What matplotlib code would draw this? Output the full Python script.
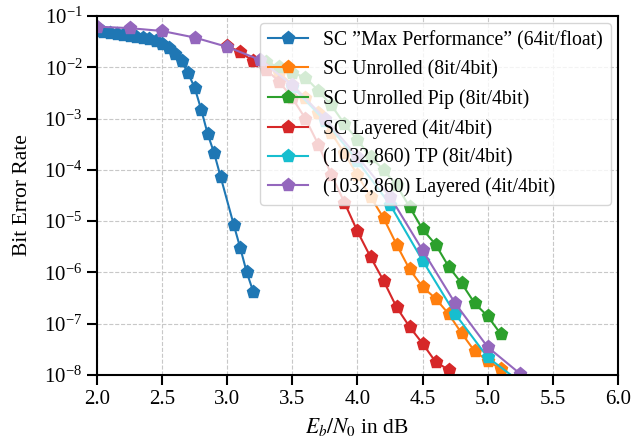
import numpy as np
import matplotlib
matplotlib.use("Agg")
import matplotlib.pyplot as plt
from matplotlib.ticker import LogLocator, NullLocator

plt.rcParams["font.family"] = ["Liberation Serif", "DejaVu Serif"]
plt.rcParams["mathtext.fontset"] = "stix"
plt.rcParams["font.size"] = 15

# BER curves: Eb/N0 in dB and bit error rate
sc_max_x = [2.0, 2.05, 2.1, 2.15, 2.2, 2.25, 2.3, 2.35, 2.4, 2.45, 2.5, 2.55,
            2.6, 2.65, 2.7, 2.75, 2.8, 2.85, 2.9, 2.95, 3.05, 3.1, 3.15, 3.2]
sc_max_y = [5.0e-2, 4.8e-2, 4.6e-2, 4.5e-2, 4.3e-2, 4.1e-2, 3.9e-2, 3.7e-2,
            3.5e-2, 3.2e-2, 2.9e-2, 2.4e-2, 1.8e-2, 1.3e-2, 7.6e-3, 4.0e-3,
            1.5e-3, 5.0e-4, 2.1e-4, 7.2e-5, 8.5e-6, 3.0e-6, 1.0e-6, 4.2e-7]

unrolled_x = [3.3, 3.4, 3.5, 3.6, 3.7, 3.8, 3.9, 4.0, 4.1, 4.2, 4.3, 4.4,
              4.5, 4.6, 4.7, 4.8, 4.9, 5.0, 5.1]
unrolled_y = [1.1e-2, 7.9e-3, 4.5e-3, 2.5e-3, 1.26e-3, 5.2e-4, 2.1e-4,
              7.9e-5, 3.0e-5, 1.15e-5, 3.5e-6, 1.15e-6, 5.2e-7, 3.1e-7,
              1.55e-7, 6.5e-8, 2.9e-8, 1.9e-8, 1.3e-8]

pip_x = [3.3, 3.4, 3.5, 3.6, 3.7, 3.8, 3.9, 4.0, 4.1, 4.2, 4.3, 4.4, 4.5,
         4.6, 4.7, 4.8, 4.9, 5.0, 5.1]
pip_y = [1.25e-2, 1.0e-2, 7.9e-3, 6.3e-3, 3.5e-3, 1.8e-3, 7.9e-4, 3.8e-4,
         1.8e-4, 1.0e-4, 5.0e-5, 1.9e-5, 6.9e-6, 3.5e-6, 1.3e-6, 6.1e-7,
         2.5e-7, 1.4e-7, 6.3e-8]

layered_x = [3.0, 3.1, 3.2, 3.3, 3.4, 3.5, 3.6, 3.7, 3.8, 3.9, 4.0, 4.1,
             4.2, 4.3, 4.4, 4.5, 4.6, 4.7]
layered_y = [2.6e-2, 2.0e-2, 1.3e-2, 9.0e-3, 5.2e-3, 2.5e-3, 1.0e-3, 3.1e-4,
             8.0e-5, 2.3e-5, 6.3e-6, 2.0e-6, 6.9e-7, 2.1e-7, 8.7e-8, 4.1e-8,
             1.8e-8, 1.26e-8]

tp_x = [3.5, 3.75, 4.0, 4.25, 4.5, 4.75, 5.0, 5.25]
tp_y = [4.2e-3, 9.0e-4, 1.5e-4, 2.1e-5, 1.7e-6, 1.55e-7, 2.2e-8, 7.3e-9]

ldpc_layered_x = [2.0, 2.25, 2.5, 2.75, 3.0, 3.25, 3.5, 3.75, 4.0, 4.25,
                  4.5, 4.75, 5.0, 5.25]
ldpc_layered_y = [6.2e-2, 5.8e-2, 5.1e-2, 3.8e-2, 2.5e-2, 1.4e-2, 4.5e-3,
                  1.0e-3, 1.8e-4, 3.0e-5, 2.7e-6, 2.5e-7, 3.5e-8, 1.05e-8]

series = [
    (sc_max_x, sc_max_y, "SC \u201dMax Performance\u201d (64it/float)", "tab:blue"),
    (unrolled_x, unrolled_y, "SC Unrolled (8it/4bit)", "tab:orange"),
    (pip_x, pip_y, "SC Unrolled Pip (8it/4bit)", "tab:green"),
    (layered_x, layered_y, "SC Layered (4it/4bit)", "tab:red"),
    (tp_x, tp_y, "(1032,860) TP (8it/4bit)", "tab:cyan"),
    (ldpc_layered_x, ldpc_layered_y, "(1032,860) Layered (4it/4bit)", "tab:purple"),
]

fig = plt.figure(figsize=(6.33, 4.38), dpi=100)
ax = fig.add_axes([0.1532, 0.1438, 0.8231, 0.8197])

for x, y, label, color in series:
    ax.semilogy(x, y, marker="p", markersize=9.5, linewidth=1.5,
                color=color, label=label)

ax.set_xlim(2.0, 6.0)
ax.set_ylim(1e-8, 1e-1)
ax.set_xticks(np.arange(2.0, 6.01, 0.5))
ax.yaxis.set_major_locator(LogLocator(base=10, numticks=12))
ax.yaxis.set_minor_locator(NullLocator())
ax.grid(True, which="major", linestyle="--", color="#c8c8c8", linewidth=0.8)
ax.set_axisbelow(True)

for s in ax.spines.values():
    s.set_linewidth(1.5)
ax.tick_params(axis="both", which="major", direction="out", length=7,
               width=1.5, labelsize=15)

ax.set_xlabel(r"$E_b/N_0$ in dB", fontsize=15.5, labelpad=5)
ax.set_ylabel("Bit Error Rate", fontsize=15.5, labelpad=9)

leg = ax.legend(loc="upper right", fontsize=14.2, framealpha=0.8,
                handlelength=2.0, borderaxespad=0.35)
leg.get_frame().set_edgecolor("#cccccc")

fig.savefig("out.png", dpi=100)
